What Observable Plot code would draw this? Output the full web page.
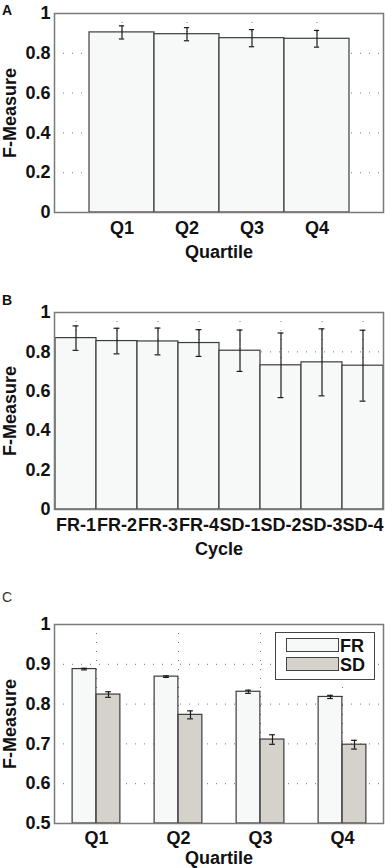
<!DOCTYPE html>
<html>
<head>
<meta charset="utf-8">
<script src="https://cdn.jsdelivr.net/npm/d3@7"></script>
<script src="https://cdn.jsdelivr.net/npm/@observablehq/plot@0.6"></script>
<style>
  html, body { margin: 0; padding: 0; background: #fff; }
  #page { position: relative; width: 385px; height: 868px; overflow: hidden; font-family: "Liberation Sans", Arial, sans-serif; }
  .panel { position: absolute; left: 0; }
  .plabel { position: absolute; font-weight: bold; font-size: 14px; color: #111; line-height: 1; }
  #legend { position: absolute; left: 275px; top: 632px; width: 98px; height: 46px; border: 1.5px solid #444; background: #fff; }
  .sw { position: absolute; left: 10px; width: 51px; height: 12px; border: 1.2px solid #444; }
  .lt { position: absolute; left: 64px; font-weight: bold; font-size: 18px; color: #111; line-height: 1; }
</style>
</head>
<body>
<div id="page">
  <div class="plabel" style="left:2px;top:3px;">A</div>
  <div class="plabel" style="left:2px;top:293px;">B</div>
  <div class="plabel" style="left:2px;top:590px;font-weight:normal;color:#333;">C</div>
  <div id="pA" class="panel" style="top:0px"></div>
  <div id="pB" class="panel" style="top:280px"></div>
  <div id="pC" class="panel" style="top:560px"></div>
  <div id="legend">
    <div class="sw" style="top:5px;background:#f7f8f8"></div>
    <div class="lt" style="top:4px">FR</div>
    <div class="sw" style="top:24px;background:#d4d2cb"></div>
    <div class="lt" style="top:23px">SD</div>
  </div>
</div>
<script>
// ---- Data ----
const quartiles = ["Q1", "Q2", "Q3", "Q4"];
const fmA = [0.905, 0.896, 0.876, 0.873];
const errA = [0.033, 0.033, 0.043, 0.042];

const cycles = ["FR-1", "FR-2", "FR-3", "FR-4", "SD-1", "SD-2", "SD-3", "SD-4"];
const fmB = [0.870, 0.855, 0.853, 0.845, 0.806, 0.732, 0.747, 0.730];
const errB = [0.062, 0.065, 0.068, 0.068, 0.105, 0.164, 0.170, 0.180];

const groups = ["FR", "SD"];
const fmFR = [0.888, 0.869, 0.831, 0.818];
const errFR = [0.002, 0.002, 0.004, 0.004];
const fmSD = [0.824, 0.773, 0.711, 0.698];
const errSD = [0.007, 0.010, 0.012, 0.011];

const yTicksAB = [0, 0.2, 0.4, 0.6, 0.8, 1];
const yTicksC = [0.5, 0.6, 0.7, 0.8, 0.9, 1];

// ---- Styles ----
const FONT = "'Liberation Sans', Arial, sans-serif";
const FILL_FR = "#f7f8f8";
const FILL_SD = "#d4d2cb";
const BAR_STROKE = "#3c3c3c";
const ERR = "#1a1a1a";
const GRID = {stroke: "#777", strokeOpacity: 1, strokeDasharray: "1,8", strokeWidth: 1};
const W = 385;
const style = {fontFamily: FONT, fontWeight: "bold", fontSize: "18px", color: "#111", background: "transparent", overflow: "visible"};

function fmt(d) { return String(d); }

// ---- Panel A ----
const dataA = quartiles.map((q, i) => ({q, v: fmA[i], e: errA[i]}));
{
  const mL = 54, mR = 2, bw = (W - mL - mR) / 5, cap = 6;
  const plot = Plot.plot({
    width: W, height: 262,
    marginLeft: mL, marginRight: mR, marginTop: 13, marginBottom: 50,
    style,
    x: {domain: quartiles, paddingInner: 0, paddingOuter: 0.5},
    y: {domain: [0, 1]},
    marks: [
      Plot.gridY(yTicksAB, GRID),
      Plot.gridX(quartiles, GRID),
      Plot.barY(dataA, {x: "q", y: "v", fill: FILL_FR, stroke: BAR_STROKE, strokeWidth: 1.2}),
      Plot.ruleX(dataA, {x: "q", y1: d => d.v - d.e, y2: d => d.v + d.e, stroke: ERR, strokeWidth: 1.2}),
      Plot.tickY(dataA, {x: "q", y: d => d.v - d.e, stroke: ERR, strokeWidth: 1.2, insetLeft: (bw - cap) / 2, insetRight: (bw - cap) / 2}),
      Plot.tickY(dataA, {x: "q", y: d => d.v + d.e, stroke: ERR, strokeWidth: 1.2, insetLeft: (bw - cap) / 2, insetRight: (bw - cap) / 2}),
      Plot.axisY(yTicksAB, {tickSize: 0, tickPadding: 4, tickFormat: fmt, label: "F-Measure", labelArrow: "none", labelAnchor: "center", labelOffset: 51}),
      Plot.axisX({tickSize: 0, tickPadding: 9, label: "Quartile", labelArrow: "none", labelAnchor: "center", labelOffset: 45}),
      Plot.frame({stroke: "#7a7a7a", strokeWidth: 1.5})
    ]
  });
  document.getElementById("pA").append(plot);
}

// ---- Panel B ----
const dataB = cycles.map((c, i) => ({c, v: fmB[i], e: errB[i]}));
{
  const mL = 54, mR = 2, bw = (W - mL - mR) / 8, cap = 6;
  const plot = Plot.plot({
    width: W, height: 280,
    marginLeft: mL, marginRight: mR, marginTop: 32, marginBottom: 51,
    style,
    x: {domain: cycles, paddingInner: 0, paddingOuter: 0},
    y: {domain: [0, 1]},
    marks: [
      Plot.gridY(yTicksAB, GRID),
      Plot.gridX(cycles, GRID),
      Plot.barY(dataB, {x: "c", y: "v", fill: FILL_FR, stroke: BAR_STROKE, strokeWidth: 1.2}),
      Plot.ruleX(dataB, {x: "c", y1: d => d.v - d.e, y2: d => d.v + d.e, stroke: ERR, strokeWidth: 1.2}),
      Plot.tickY(dataB, {x: "c", y: d => d.v - d.e, stroke: ERR, strokeWidth: 1.2, insetLeft: (bw - cap) / 2, insetRight: (bw - cap) / 2}),
      Plot.tickY(dataB, {x: "c", y: d => d.v + d.e, stroke: ERR, strokeWidth: 1.2, insetLeft: (bw - cap) / 2, insetRight: (bw - cap) / 2}),
      Plot.axisY(yTicksAB, {tickSize: 0, tickPadding: 4, tickFormat: fmt, label: "F-Measure", labelArrow: "none", labelAnchor: "center", labelOffset: 51}),
      Plot.axisX({tickSize: 0, tickPadding: 9, label: "Cycle", labelArrow: "none", labelAnchor: "center", labelOffset: 45}),
      Plot.frame({stroke: "#7a7a7a", strokeWidth: 1.5})
    ]
  });
  document.getElementById("pB").append(plot);
}

// ---- Panel C ----
const dataC = [];
quartiles.forEach((q, i) => {
  dataC.push({q, g: "FR", v: fmFR[i], e: errFR[i]});
  dataC.push({q, g: "SD", v: fmSD[i], e: errSD[i]});
});
{
  const mL = 54, mR = 2, step = (W - mL - mR) / 4, bar = 24, cap = 6;
  const inset = (step - bar) / 2;
  const capInset = (step - cap) / 2;
  const off = g => (g === "FR" ? -bar / 2 : bar / 2);
  const fr = dataC.filter(d => d.g === "FR");
  const sd = dataC.filter(d => d.g === "SD");
  const errMarks = (arr, dx) => [
    Plot.ruleX(arr, {x: "q", y1: d => d.v - d.e, y2: d => d.v + d.e, dx, stroke: ERR, strokeWidth: 1.2}),
    Plot.tickY(arr, {x: "q", y: d => d.v - d.e, dx, stroke: ERR, strokeWidth: 1.2, insetLeft: capInset, insetRight: capInset}),
    Plot.tickY(arr, {x: "q", y: d => d.v + d.e, dx, stroke: ERR, strokeWidth: 1.2, insetLeft: capInset, insetRight: capInset})
  ];
  const plot = Plot.plot({
    width: W, height: 308,
    marginLeft: mL, marginRight: mR, marginTop: 64, marginBottom: 45,
    style,
    x: {domain: quartiles, paddingInner: 0, paddingOuter: 0},
    y: {domain: [yTicksC[0], 1]},
    marks: [
      Plot.gridY(yTicksC, GRID),
      Plot.gridX(quartiles, GRID),
      Plot.barY(fr, {x: "q", y1: yTicksC[0], y2: "v", dx: off("FR"), insetLeft: inset, insetRight: inset, fill: FILL_FR, stroke: BAR_STROKE, strokeWidth: 1.2}),
      Plot.barY(sd, {x: "q", y1: yTicksC[0], y2: "v", dx: off("SD"), insetLeft: inset, insetRight: inset, fill: FILL_SD, stroke: BAR_STROKE, strokeWidth: 1.2}),
      ...errMarks(fr, off("FR")),
      ...errMarks(sd, off("SD")),
      Plot.axisY(yTicksC, {tickSize: 0, tickPadding: 4, tickFormat: fmt, label: "F-Measure", labelArrow: "none", labelAnchor: "center", labelOffset: 51}),
      Plot.axisX({tickSize: 0, tickPadding: 8, label: "Quartile", labelArrow: "none", labelAnchor: "center", labelOffset: 40}),
      Plot.frame({stroke: "#7a7a7a", strokeWidth: 1.5})
    ]
  });
  document.getElementById("pC").append(plot);
}
</script>
</body>
</html>
